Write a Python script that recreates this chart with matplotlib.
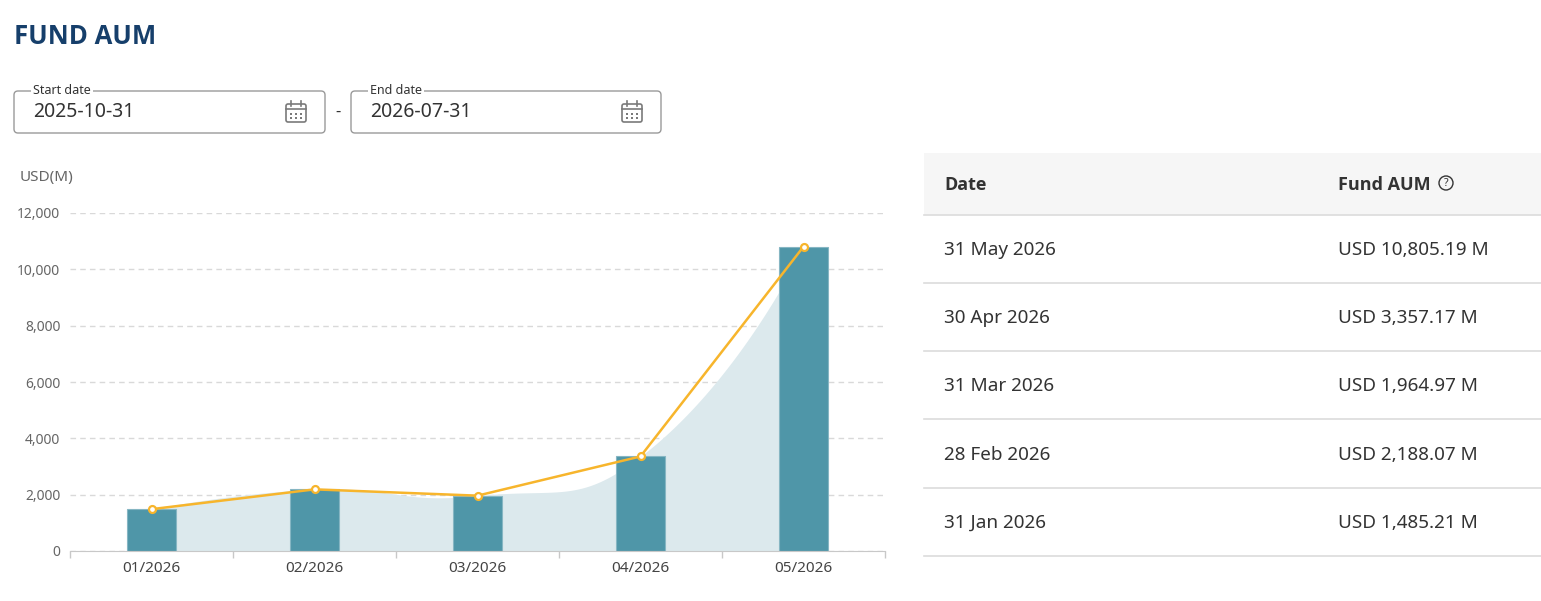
import numpy as np
import matplotlib
matplotlib.use("Agg")
import matplotlib.pyplot as plt
from matplotlib.patches import FancyBboxPatch, Rectangle, Circle

plt.rcParams['font.family'] = ['Noto Sans', 'DejaVu Sans']
BOLD = ['Open Sans', 'DejaVu Sans']

# ---- data ----
categories = ["01/2026", "02/2026", "03/2026", "04/2026", "05/2026"]
aum_values = [1485.21, 2188.07, 1964.97, 3357.17, 10805.19]
y_ticks = [0, 2000, 4000, 6000, 8000, 10000, 12000]
table_dates = ["31 May 2026", "30 Apr 2026", "31 Mar 2026", "28 Feb 2026", "31 Jan 2026"]
table_values = ["USD 10,805.19 M", "USD 3,357.17 M", "USD 1,964.97 M", "USD 2,188.07 M", "USD 1,485.21 M"]
start_date = "2025-10-31"
end_date = "2026-07-31"

W, H = 1541, 601
fig = plt.figure(figsize=(W / 100, H / 100), dpi=100)
fig.patch.set_facecolor("white")

def px_axes(x0, y0, x1, y1):
    return fig.add_axes([x0 / W, 1 - y1 / H, (x1 - x0) / W, (y1 - y0) / H])

# ---- chart ----
AX_L, AX_R, AX_T, AX_B = 70, 885, 213, 551
ax = px_axes(AX_L, AX_T, AX_R, AX_B)
x = np.arange(len(categories))
ymax = 12000


def smooth_curve(xs, ys, smooth=0.5, n=80):
    """Bezier smoothing (echarts-style) computed in pixel space, returned in data space."""
    sx = (AX_R - AX_L) / len(xs)
    sy = (AX_B - AX_T) / ymax
    P = np.column_stack([np.asarray(xs, float) * sx, np.asarray(ys, float) * sy])
    N = len(P)
    cp_prev = P.copy(); cp_next = P.copy()
    for i in range(1, N - 1):
        v = P[i + 1] - P[i - 1]
        d0 = np.linalg.norm(P[i] - P[i - 1]); d2 = np.linalg.norm(P[i + 1] - P[i])
        r = d2 / (d0 + d2)
        cp_next[i] = P[i] + v * smooth * r
        cp_prev[i] = P[i] - v * smooth * (1 - r)
    pts = []
    t = np.linspace(0, 1, n)[:, None]
    for i in range(N - 1):
        a, b, c, d = P[i], cp_next[i], cp_prev[i + 1], P[i + 1]
        seg = (1 - t)**3 * a + 3 * (1 - t)**2 * t * b + 3 * (1 - t) * t**2 * c + t**3 * d
        pts.append(seg)
    pts = np.vstack(pts)
    return pts[:, 0] / sx, pts[:, 1] / sy

xx, yy = smooth_curve(x, aum_values)
ax.fill_between(xx, 0, yy, color="#dce9ed", lw=0, zorder=1)
ax.bar(x, aum_values, width=0.3, color="#4f96a8", edgecolor="#86b6c3", linewidth=0.8, zorder=2)
ax.plot(x, aum_values, color="#f7b52c", lw=1.8, zorder=3,
        marker="o", ms=5, mfc="white", mec="#f7b52c", mew=1.6)

ax.set_xlim(-0.5, len(categories) - 0.5)
ax.set_ylim(0, ymax)
ax.set_yticks(y_ticks)
ax.set_yticklabels([f"{v:,}" for v in y_ticks])
ax.set_xticks(x)
ax.set_xticklabels(categories)
ax.set_xticks(np.arange(-0.5, len(categories)), minor=True)
ax.tick_params(axis='x', which='major', length=0, pad=7, labelsize=11, labelcolor="#444444")
ax.tick_params(axis='x', which='minor', length=5, color="#c8c8c8", width=1)
ax.tick_params(axis='y', length=0, pad=7, labelsize=10, labelcolor="#666666")
for s in ["top", "right", "left"]:
    ax.spines[s].set_visible(False)
ax.spines["bottom"].set_color("#c8c8c8")
ax.yaxis.grid(True, color="#d9d9d9", ls=(0, (4, 3)), lw=1)
ax.set_axisbelow(True)
ax.set_facecolor("none")

# ---- overlay in pixel coords ----
ov2 = fig.add_axes([0, 0, 1, 1], zorder=5)
ov2.set_xlim(0, W); ov2.set_ylim(H, 0); ov2.axis("off")
ov2.patch.set_alpha(0)

ov2.text(14, 36, "FUND AUM", fontsize=18.5, fontweight="bold", family=BOLD,
         color="#163f6b", va="center", ha="left")
ov2.text(20, 177, "USD(M)", fontsize=11, color="#666666", va="center", ha="left")


def calendar(a, cx, cy):
    c = "#7a7a7a"
    a.add_patch(FancyBboxPatch((cx - 10, cy - 8), 20, 18, boxstyle="round,pad=0,rounding_size=2",
                               fill=False, ec=c, lw=1.2))
    a.plot([cx - 10, cx + 10], [cy - 3, cy - 3], color=c, lw=1.2)
    a.plot([cx - 5, cx - 5], [cy - 11, cy - 6], color=c, lw=1.2)
    a.plot([cx + 5, cx + 5], [cy - 11, cy - 6], color=c, lw=1.2)
    for dx in (-5, 0, 5):
        for dy in (2, 6):
            a.add_patch(Rectangle((cx + dx - 1, cy + dy - 1), 2, 2, color=c, lw=0))


def date_box(a, x0, x1, label, value):
    a.add_patch(FancyBboxPatch((x0, 91), x1 - x0, 42, boxstyle="round,pad=0,rounding_size=4",
                               fill=False, ec="#9a9a9a", lw=1.0))
    a.text(x0 + 19, 90.5, label, fontsize=9, color="#333333", va="center", ha="left",
           bbox=dict(facecolor="white", edgecolor="none", pad=1.5))
    a.text(x0 + 19, 112, value, fontsize=14, color="#333333", va="center", ha="left")
    calendar(a, x1 - 29, 112)

date_box(ov2, 14, 325, "Start date", start_date)
date_box(ov2, 351, 661, "End date", end_date)
ov2.text(338, 112, "-", fontsize=12, color="#333333", va="center", ha="center")

# ---- table ----
ov2.add_patch(Rectangle((924, 153), W - 924, 62, color="#f6f6f6", lw=0))
ov2.text(944, 185, "Date", fontsize=13, fontweight="bold", family=BOLD,
         color="#333333", va="center", ha="left")
ov2.text(1338, 185, "Fund AUM", fontsize=13, fontweight="bold", family=BOLD,
         color="#333333", va="center", ha="left")
ov2.add_patch(Circle((1446, 183), 7, fill=False, ec="#333333", lw=1))
ov2.text(1446, 183.5, "?", fontsize=7.5, color="#333333", va="center", ha="center")
row_lines = [215, 283, 351, 419, 488, 556]
for yl in row_lines:
    ov2.plot([924, W], [yl, yl], color="#dcdcdc", lw=1.2)
for i, (d, v) in enumerate(zip(table_dates, table_values)):
    yc = (row_lines[i] + row_lines[i + 1]) / 2 + 1
    ov2.text(944, yc, d, fontsize=13.6, color="#333333", va="center", ha="left")
    ov2.text(1338, yc, v, fontsize=13.6, color="#333333", va="center", ha="left")

fig.savefig("out.png", dpi=100, facecolor="white")
